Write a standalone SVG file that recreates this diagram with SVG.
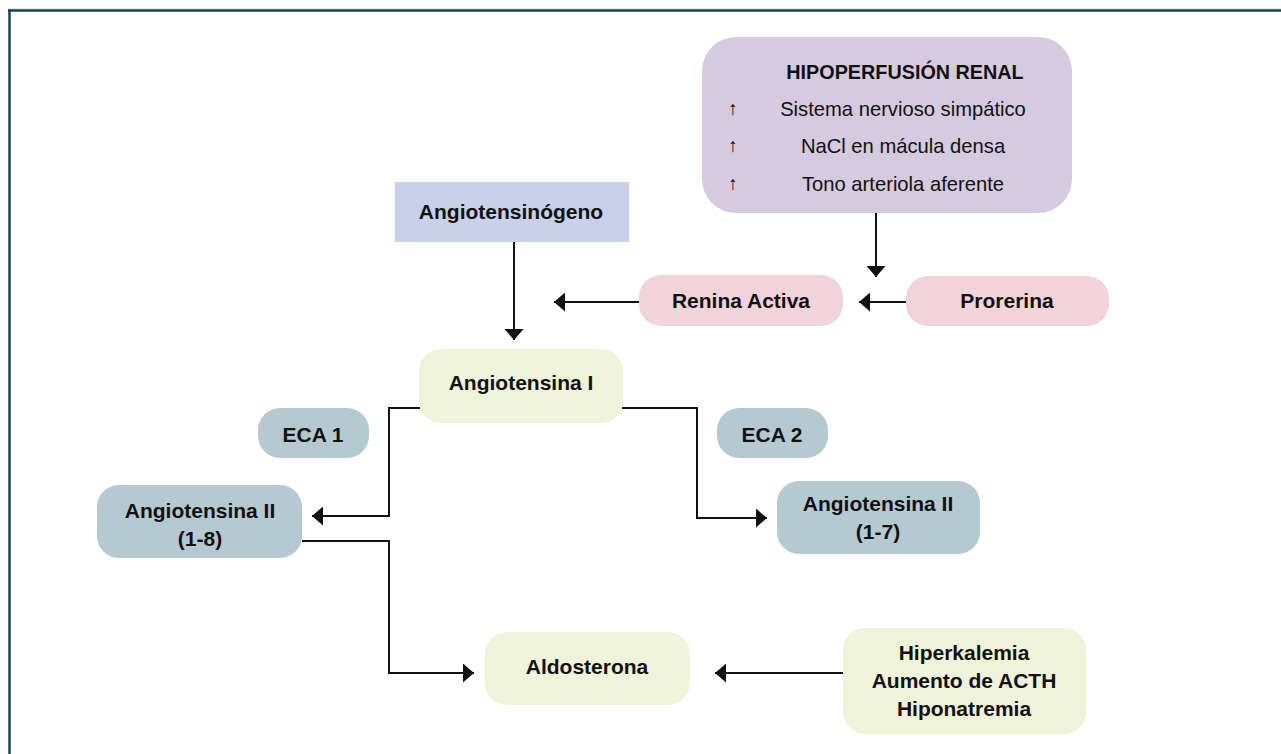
<svg xmlns="http://www.w3.org/2000/svg" width="1281" height="754" viewBox="0 0 1281 754">
  <style>
    .lbl { font-family: "Liberation Sans", Arial, sans-serif; font-size: 21px; font-weight: bold; fill: #111; text-anchor: middle; }
    .row { font-family: "Liberation Sans", Arial, sans-serif; font-size: 20.2px; fill: #111; text-anchor: middle; }
    .up { font-family: "Liberation Sans", "DejaVu Sans", sans-serif; font-size: 19px; fill: #111; text-anchor: middle; }
    .wire { fill: none; stroke: #111; stroke-width: 2; }
    .purple { fill: #d5cadf; }
    .lav { fill: #c9d0ea; }
    .pink { fill: #f1d3d9; }
    .green { fill: #eef3d9; }
    .slate { fill: #b5c9d0; }
  </style>
  <defs>
    <marker id="head" viewBox="0 0 11 19" refX="11" refY="9.5" markerWidth="11" markerHeight="19" markerUnits="userSpaceOnUse" orient="auto">
      <path d="M0,0 L11,9.5 L0,19 Z" fill="#111"/>
    </marker>
  </defs>

  <rect width="1281" height="754" fill="#ffffff"/>
  <!-- frame: top and left rules -->
  <g id="frame">
    <line x1="8" y1="9" x2="1281" y2="9" stroke="#c9d3d6" stroke-width="1"/>
    <line x1="8" y1="10.5" x2="1281" y2="10.5" stroke="#17434f" stroke-width="2.5"/>
    <line x1="9.5" y1="9.5" x2="9.5" y2="754" stroke="#17434f" stroke-width="2.5"/>
  </g>

  <g id="connectors">
    <line class="wire" x1="514" y1="242" x2="514" y2="340" marker-end="url(#head)"/>
    <line class="wire" x1="639" y1="302" x2="554" y2="302" marker-end="url(#head)"/>
    <line class="wire" x1="876" y1="212" x2="876" y2="277" marker-end="url(#head)"/>
    <line class="wire" x1="906" y1="302" x2="859" y2="302" marker-end="url(#head)"/>
    <polyline class="wire" points="420,408 389,408 389,516 312,516" marker-end="url(#head)"/>
    <polyline class="wire" points="622,408 697,408 697,518 767,518" marker-end="url(#head)"/>
    <polyline class="wire" points="302,541 389,541 389,673 474,673" marker-end="url(#head)"/>
    <line class="wire" x1="843" y1="673" x2="715" y2="673" marker-end="url(#head)"/>
  </g>

  <g id="hipoperfusion">
    <rect class="purple" x="702" y="37" width="370" height="176" rx="34"/>
    <text class="lbl" x="905" y="79" style="font-size:19.8px">HIPOPERFUSIÓN RENAL</text>
    <text class="up" x="733" y="115">↑</text>
    <text class="row" x="903" y="116">Sistema nervioso simpático</text>
    <text class="up" x="733" y="152">↑</text>
    <text class="row" x="903" y="153">NaCl en mácula densa</text>
    <text class="up" x="733" y="190">↑</text>
    <text class="row" x="903" y="191">Tono arteriola aferente</text>
  </g>

  <g id="angiotensinogeno">
    <rect class="lav" x="395" y="182" width="234" height="60"/>
    <text class="lbl" x="511" y="219">Angiotensinógeno</text>
  </g>

  <g id="renina">
    <rect class="pink" x="639" y="275" width="204" height="51" rx="22"/>
    <text class="lbl" x="741" y="308">Renina Activa</text>
  </g>

  <g id="prorerina">
    <rect class="pink" x="906" y="276" width="203" height="50" rx="22"/>
    <text class="lbl" x="1007" y="308">Prorerina</text>
  </g>

  <g id="angiotensina1">
    <rect class="green" x="419" y="349" width="204" height="74" rx="22"/>
    <text class="lbl" x="521" y="390">Angiotensina I</text>
  </g>

  <g id="eca1">
    <rect class="slate" x="258" y="408" width="111" height="50" rx="22"/>
    <text class="lbl" x="313" y="442">ECA 1</text>
  </g>

  <g id="eca2">
    <rect class="slate" x="717" y="408" width="111" height="50" rx="22"/>
    <text class="lbl" x="772" y="442">ECA 2</text>
  </g>

  <g id="angiotensina2-18">
    <rect class="slate" x="97" y="485" width="205" height="73" rx="22"/>
    <text class="lbl" x="200" y="518">Angiotensina II</text>
    <text class="lbl" x="200" y="546">(1-8)</text>
  </g>

  <g id="angiotensina2-17">
    <rect class="slate" x="777" y="481" width="203" height="73" rx="22"/>
    <text class="lbl" x="878" y="511">Angiotensina II</text>
    <text class="lbl" x="878" y="539">(1-7)</text>
  </g>

  <g id="aldosterona">
    <rect class="green" x="485" y="632" width="205" height="73" rx="22"/>
    <text class="lbl" x="587" y="674">Aldosterona</text>
  </g>

  <g id="estimulos">
    <rect class="green" x="843" y="628" width="243" height="106" rx="22"/>
    <text class="lbl" x="964" y="660">Hiperkalemia</text>
    <text class="lbl" x="964" y="688">Aumento de ACTH</text>
    <text class="lbl" x="964" y="716">Hiponatremia</text>
  </g>
</svg>
